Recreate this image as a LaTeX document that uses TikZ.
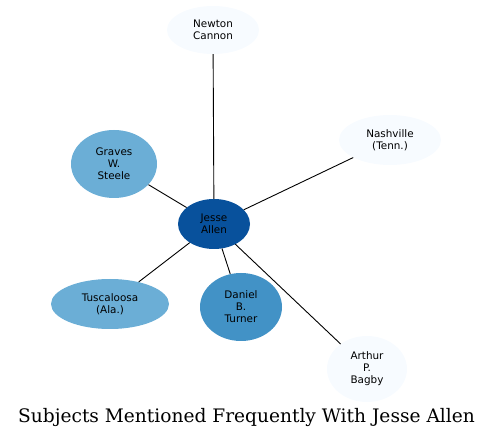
\documentclass[tikz,border=0pt]{standalone}
\usepackage{fontspec}
\newfontfamily\labelfont{DejaVu Sans}
\newfontfamily\titlefont{DejaVu Serif}
\usetikzlibrary{positioning, shapes.geometric}
\definecolor{paleblue}{HTML}{F7FBFF}
\definecolor{midblue}{HTML}{6BAED6}
\definecolor{deepblue}{HTML}{4292C6}
\definecolor{darkblue}{HTML}{08519C}

\begin{document}
\begin{tikzpicture}[
    x=1pt, y=-1pt,
    subject/.style={ellipse, draw=none, inner sep=0pt, align=center, font=\labelfont\fontsize{10.4}{12}\selectfont},
    pale/.style={subject, fill=paleblue},
    mid/.style={subject, fill=midblue},
    deep/.style={subject, fill=deepblue},
    center/.style={subject, fill=darkblue},
    link/.style={draw=black, line width=0.9pt}
]
\useasboundingbox (0,0) rectangle (493,438);

% Central person
\node[center, minimum width=72pt, minimum height=50pt] (jesse) at (214,224) {Jesse\\Allen};

% Related subjects
\node[pale, minimum width=92pt, minimum height=48pt] (newton) at (213,30) {Newton\\Cannon};
\node[pale, minimum width=102pt, minimum height=50pt] (nashville) at (390,140) {Nashville\\(Tenn.)};
\node[mid, minimum width=86pt, minimum height=68pt] (graves) at (114,164) {Graves\\W.\\Steele};
\node[mid, minimum width=118pt, minimum height=50pt] (tuscaloosa) at (110,304) {Tuscaloosa\\(Ala.)};
\node[deep, minimum width=82pt, minimum height=68pt] (daniel) at (241,307) {Daniel\\B.\\Turner};
\node[pale, minimum width=80pt, minimum height=66pt] (arthur) at (367,369) {Arthur\\P.\\Bagby};

% Connections to the central person
\foreach \s in {newton, nashville, graves, tuscaloosa, daniel, arthur} {
    \draw[link] (jesse) -- (\s);
}

% Title
\node[font=\titlefont\fontsize{18.6}{20}\selectfont, anchor=base] (title) at (246.5,423) {Subjects Mentioned Frequently With Jesse Allen};

\end{tikzpicture}
\end{document}
